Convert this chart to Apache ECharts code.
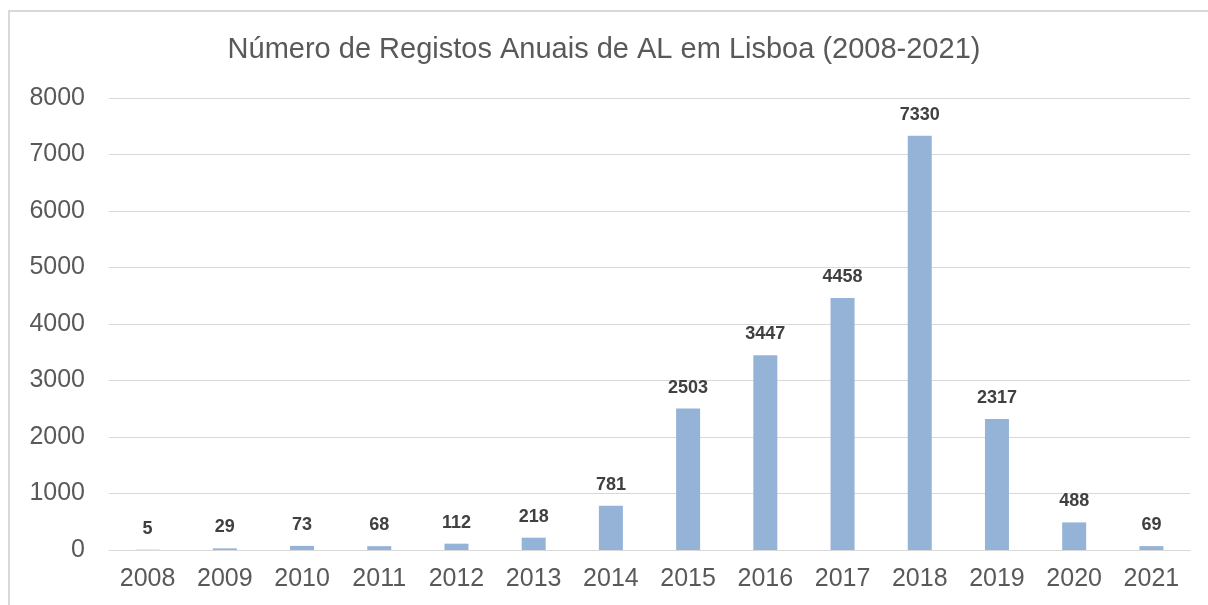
<!DOCTYPE html>
<html>
<head>
<meta charset="utf-8">
<script src="https://cdn.jsdelivr.net/npm/echarts@6/dist/echarts.min.js"></script>
<style>
  html, body { margin: 0; padding: 0; background: #fff; }
  #chart { width: 1208px; height: 605px; }
</style>
</head>
<body>
<div id="chart"></div>
<script>
// years on the x axis
const years = ['2008', '2009', '2010', '2011', '2012', '2013', '2014', '2015', '2016', '2017', '2018', '2019', '2020', '2021']
// registos anuais
const registos = [5, 29, 73, 68, 112, 218, 781, 2503, 3447, 4458, 7330, 2317, 488, 69]

const chart = echarts.init(document.getElementById('chart'))
const font = '"Liberation Sans", Arial, sans-serif'

const option = {
  animation: false,
  textStyle: { fontFamily: font },
  title: {
    text: 'Número de Registos Anuais de AL em Lisboa (2008-2021)',
    left: 'center',
    top: 30,
    textStyle: {
      fontFamily: font,
      fontSize: 29,
      fontWeight: 'normal',
      color: '#595959',
    },
  },
  // chart frame
  graphic: [{
    type: 'rect',
    shape: { x: 9, y: 11, width: 1300, height: 700 },
    style: { fill: 'none', stroke: '#d9d9d9', lineWidth: 2 },
    silent: true,
  }],
  grid: {
    left: 109,
    right: 18,
    top: 98,
    bottom: 55,
  },
  xAxis: {
    type: 'category',
    data: years,
    axisTick: { show: false },
    axisLine: { lineStyle: { color: '#d9d9d9', width: 1 } },
    axisLabel: {
      fontSize: 25,
      color: '#595959',
      margin: 17,
      fontFamily: font,
    },
  },
  yAxis: {
    type: 'value',
    min: 0,
    max: 8000,
    interval: 1000,
    axisLine: { show: false },
    axisTick: { show: false },
    splitLine: { lineStyle: { color: '#d9d9d9', width: 1 } },
    axisLabel: {
      fontSize: 25,
      color: '#595959',
      margin: 24,
      fontFamily: font,
      formatter: (v) => String(v),
    },
  },
  series: [{
    type: 'bar',
    data: registos,
    barWidth: 24,
    itemStyle: { color: '#95b3d7' },
    label: {
      show: true,
      position: 'top',
      distance: 12,
      fontSize: 18,
      fontWeight: 'bold',
      color: '#404040',
      fontFamily: font,
    },
  }],
}

chart.setOption(option)
</script>
</body>
</html>
